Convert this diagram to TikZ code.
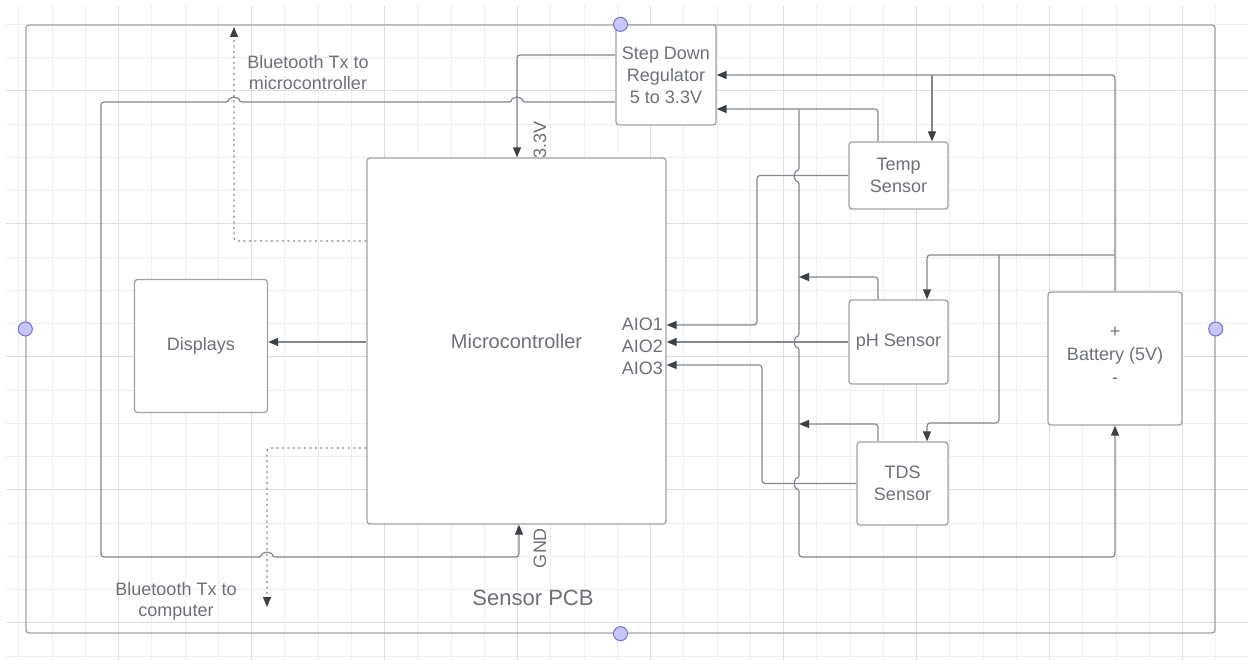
\documentclass[tikz,border=0pt]{standalone}
\usepackage{fontspec}
\setmainfont{Liberation Sans}
\usetikzlibrary{arrows.meta}

\definecolor{gridc}{HTML}{EEEEEE}
\definecolor{gridm}{HTML}{DEDEDE}
\definecolor{wirec}{HTML}{83878D}
\definecolor{boxc}{HTML}{9FA3A8}
\definecolor{textc}{HTML}{6D7177}
\definecolor{tipc}{HTML}{3B4045}
\definecolor{handlec}{HTML}{C8C8FF}
\definecolor{handled}{HTML}{6E6EF2}

\tikzset{
  blk/.style={draw=boxc, line width=1.3pt, rounded corners=3pt, fill=white,
    text=textc, align=center, inner sep=0pt, font=\fontsize{18}{22}\selectfont},
  wire/.style={draw=wirec, line width=1.2pt, rounded corners=3pt},
  tip/.style={-{Triangle[length=10pt,width=8pt,color=tipc]}},
  btwire/.style={wire, dash pattern=on 2pt off 3.5pt},
  lbl/.style={text=textc, align=center, inner sep=0pt, font=\fontsize{18}{21}\selectfont},
  handle/.style={circle, draw=handled, fill=handlec, minimum size=14pt,
    inner sep=0pt, line width=1pt}
}

\begin{document}
\begin{tikzpicture}[x=1pt, y=-1pt]
    \useasboundingbox (0,0) rectangle (1248,660);
    % grid
    \foreach \k in {0,...,36} \draw[gridc] ({18.5+33.25*\k},6) -- ++(0,654);
    \foreach \k in {0,...,19} \draw[gridc] (6,{24+33.25*\k}) -- ++(1242,0);
    \foreach \k in {3,7,...,35} \draw[gridm] ({18.5+33.25*\k},6) -- ++(0,654);
    \foreach \k in {2,6,...,18} \draw[gridm] (6,{24+33.25*\k}) -- ++(1242,0);

    % board
    \node[blk, fill=none, minimum width=1189pt, minimum height=608pt] (pcb) at (620.5,329) {};
    \node[lbl, font=\fontsize{22}{26}\selectfont] (pcblbl) at (533,598) {Sensor PCB};

    % blocks
    \node[blk, minimum width=100pt, minimum height=100pt] (reg) at (666,75) {Step Down\\Regulator\\5 to 3.3V};
    \node[blk, minimum width=299pt, minimum height=366pt, font=\fontsize{20}{24}\selectfont] (mcu) at (516.5,341) {Microcontroller};
    \node[blk, minimum width=133pt, minimum height=133pt] (disp) at (201,346) {Displays};
    \node[blk, minimum width=99pt, minimum height=67pt] (temp) at (898.5,175.5) {Temp\\Sensor};
    \node[blk, minimum width=99pt, minimum height=84pt] (ph) at (898.5,342) {pH Sensor};
    \node[blk, minimum width=91pt, minimum height=83pt] (tds) at (902.5,483.5) {TDS\\Sensor};
    \node[blk, minimum width=134pt, minimum height=133pt] (bat) at (1115,358.5) {};
    \node[lbl, font=\fontsize{18}{23}\selectfont] (batlbl) at (1115,355) {+\\Battery (5V)\\-};

    % pin labels
    \node[lbl, anchor=east] (aio1) at (663,324) {AIO1};
    \node[lbl, anchor=east] (aio2) at (663,346) {AIO2};
    \node[lbl, anchor=east] (aio3) at (663,368) {AIO3};
    \node[lbl, rotate=90] (lbl33) at (540,140) {3.3V};
    \node[lbl, rotate=90] (lblgnd) at (540,548) {GND};
    \node[lbl] (bttop) at (308,72.5) {Bluetooth Tx to\\microcontroller};
    \node[lbl] (btbot) at (176,601) {Bluetooth Tx to\\computer};

    % supply to microcontroller
    \coordinate (v33) at (517,55);
    \draw[wire, tip] (reg.west |- v33) -- (v33) -- (v33 |- mcu.north);
    \draw[wire, tip] (reg.west |- 0,102) -- (522,102) arc[start angle=0, end angle=180, radius=5pt]
        -- (239,102) arc[start angle=0, end angle=180, radius=5pt] -- (101,102) -- (101,557)
        -- (262,557) arc[start angle=180, end angle=0, radius=5pt] -- (519,557) -- (519,0 |- mcu.south);

    % bluetooth
    \draw[btwire, tip] (mcu.west |- 0,241) -- (234,241) -- (234,27);
    \draw[btwire, tip] (mcu.west |- 0,448) -- (267,448) -- (267,607);

    % displays
    \draw[wire, tip] (mcu.west |- 0,342) -- (disp.east |- 0,342);

    % battery +
    \draw[wire, tip] (bat.north) -- (1115,75) -- (reg.east |- 0,75);
    \draw[wire, tip] (932,75) -- (932,0 |- temp.north);
    \draw[wire, tip] (1115,255) -- (927,255) -- (927,0 |- ph.north);
    \draw[wire, tip] (999,255) -- (999,423) -- (927,423) -- (927,0 |- tds.north);

    % return bus
    \draw[wire, tip] (878,0 |- temp.north) -- (878,109) -- (reg.east |- 0,109);
    \draw[wire, tip] (799,109) -- (799,171) arc[start angle=90, end angle=270, radius=5pt]
        -- (799,337) arc[start angle=90, end angle=270, radius=5pt]
        -- (799,478.5) arc[start angle=90, end angle=270, radius=5pt]
        -- (799,557) -- (1115,557) -- (bat.south);
    \draw[wire, tip] (878,0 |- ph.north) -- (878,277) -- (799,277);
    \draw[wire, tip] (878,0 |- tds.north) -- (878,424) -- (799,424);

    % sensor signals
    \draw[wire, tip] (temp.west) -- (757,175.5) -- (757,325) -- (mcu.east |- 0,325);
    \draw[wire, tip] (ph.west) -- (mcu.east |- ph.west);
    \draw[wire, tip] (tds.west) -- (762,483.5) -- (762,365) -- (mcu.east |- 0,365);

    % selection handles
    \foreach \a in {north,south,east,west} \node[handle] at (pcb.\a) {};
\end{tikzpicture}
\end{document}
